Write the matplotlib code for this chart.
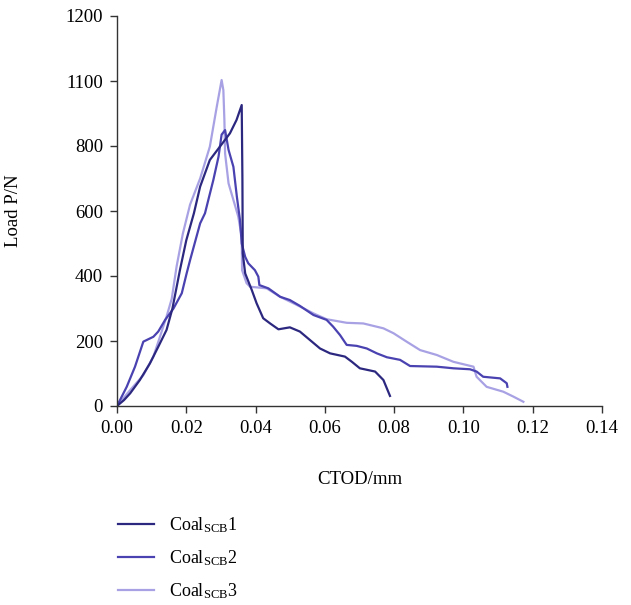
import matplotlib
matplotlib.use("Agg")
import matplotlib.pyplot as plt

plt.rcParams['font.family'] = ['Liberation Serif', 'DejaVu Serif']
plt.rcParams['mathtext.fontset'] = 'custom'
plt.rcParams['mathtext.rm'] = 'Liberation Serif'
plt.rcParams['mathtext.it'] = 'Liberation Serif:italic'

x1 = [0, 0.002, 0.0038, 0.0066, 0.0095, 0.0119, 0.0143, 0.0160, 0.0182, 0.0200, 0.0222, 0.0240,
      0.0268, 0.0297, 0.0326, 0.0345, 0.0360, 0.0362, 0.0363, 0.0370, 0.0389, 0.0403, 0.0422,
      0.0442, 0.0466, 0.0499, 0.0528, 0.0557, 0.0586, 0.0615, 0.0658, 0.0678, 0.0701, 0.0745,
      0.0769, 0.0788]
y1 = [0, 18, 39, 80, 131, 182, 234, 300, 420, 510, 593, 675,
      757, 798, 839, 880, 926, 700, 470, 408, 357, 316, 270,
      254, 236, 242, 229, 203, 177, 162, 152, 136, 116, 106,
      80, 31]

x2 = [0, 0.0028, 0.0052, 0.0076, 0.0105, 0.0119, 0.0139, 0.0163, 0.0187, 0.0201, 0.0211, 0.0240,
      0.0254, 0.0265, 0.0278, 0.0293, 0.0302, 0.0312, 0.0322, 0.0336, 0.0346, 0.0355, 0.0360,
      0.0370, 0.0379, 0.0398, 0.0408, 0.0411, 0.0437, 0.0471, 0.0499, 0.0528, 0.0567, 0.0605,
      0.0624, 0.0644, 0.0663, 0.0692, 0.0721, 0.0750, 0.0779, 0.0817, 0.0846, 0.0923, 0.0971,
      0.1019, 0.1038, 0.1057, 0.1106, 0.1125, 0.1127]
y2 = [0, 59, 121, 198, 213, 229, 265, 300, 347, 408, 449, 562,
      593, 640, 695, 767, 835, 849, 788, 736, 644, 572, 500,
      459, 439, 418, 398, 372, 362, 336, 326, 308, 280, 265,
      244, 218, 188, 185, 177, 162, 150, 142, 123, 121, 116,
      113, 106, 90, 85, 70, 59]

x3 = [0, 0.0038, 0.0076, 0.0105, 0.0124, 0.0143, 0.0158, 0.0172, 0.0190, 0.0211, 0.0240, 0.0268,
      0.0288, 0.0302, 0.0307, 0.0310, 0.0312, 0.0322, 0.0336, 0.0350, 0.0360, 0.0361, 0.0374,
      0.0384, 0.0432, 0.0471, 0.0519, 0.0567, 0.0605, 0.0663, 0.0711, 0.0769, 0.0798, 0.0836,
      0.0875, 0.0923, 0.0971, 0.1029, 0.1038, 0.1067, 0.1115, 0.1144, 0.1173]
y3 = [0, 49, 95, 152, 213, 275, 330, 429, 530, 620, 700, 798,
      921, 1003, 972, 880, 777, 685, 634, 583, 521, 418, 378,
      367, 362, 336, 311, 285, 267, 256, 254, 239, 224, 198,
      172, 157, 136, 121, 90, 59, 44, 29, 13]

y_ticks = [0, 200, 400, 600, 800, 1000, 1200]
y_tick_labels = ['0', '200', '400', '600', '800', '1100', '1200']
x_ticks = [0.00, 0.02, 0.04, 0.06, 0.08, 0.10, 0.12, 0.14]
labels = ['Coal$_{\\mathrm{SCB}}$1', 'Coal$_{\\mathrm{SCB}}$2', 'Coal$_{\\mathrm{SCB}}$3']

c1 = '#2c2880'
c2 = '#4a42b0'
c3 = '#a8a2e4'

fig = plt.figure(figsize=(6.31, 6.05), dpi=100)
ax = fig.add_axes([117/631, 1-406/605, (602-117)/631, (406-16)/605])

l3, = ax.plot(x3, y3, color=c3, lw=1.6)
l2, = ax.plot(x2, y2, color=c2, lw=1.6)
l1, = ax.plot(x1, y1, color=c1, lw=1.6)

ax.set_xlim(0, 0.14)
ax.set_ylim(0, 1200)
ax.set_xticks(x_ticks)
ax.set_xticklabels([f'{v:.2f}' for v in x_ticks])
ax.set_yticks(y_ticks)
ax.set_yticklabels(y_tick_labels)
for s in ['top', 'right']:
    ax.spines[s].set_visible(False)
for s in ['left', 'bottom']:
    ax.spines[s].set_color('#333333')
    ax.spines[s].set_linewidth(1.0)
ax.tick_params(direction='out', length=5, width=1, colors='#333333', labelcolor='black',
               labelsize=13.5, pad=5)

ax.set_ylabel('Load P/N', fontsize=13.5)
ax.yaxis.set_label_coords(-0.196, 0.5)
ax.set_xlabel('CTOD/mm', fontsize=13.5)
ax.xaxis.set_label_coords(0.5, -0.166)

fig.legend([l1, l2, l3], labels, loc='upper left', bbox_to_anchor=(102/631, 1-499/605),
           frameon=False, fontsize=13, handlelength=2.0, labelspacing=0.74, handletextpad=0.8)

fig.savefig('out.png', dpi=100)
